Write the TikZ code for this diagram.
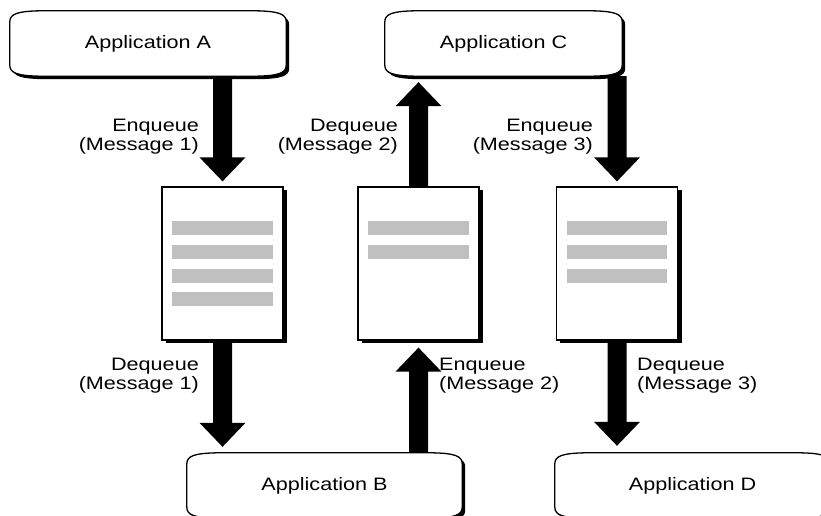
\documentclass[tikz,border=0pt]{standalone}
\usepackage{fontspec}
\setmainfont[FakeStretch=1.2]{Liberation Sans}
\usetikzlibrary{calc,backgrounds}
\definecolor{bargray}{HTML}{C0C0C0}

\tikzset{
  app/.style={minimum width=#1, minimum height=65pt, inner sep=0pt,
              font=\fontsize{18}{22}\selectfont},
  queue/.style={minimum width=121pt, minimum height=153pt, inner sep=0pt,
                draw, line width=1.3pt, fill=white},
  lbl/.style={font=\fontsize{18}{19}\selectfont, inner sep=0pt},
  boxline/.style={draw=black, line width=1.3pt, fill=white},
}

% outline of an application box, offset by (#2,#3)
\newcommand\appoutline[3]{%
  ($(#1.north west)+(#2,{#3+11})$)
  .. controls ($(#1.north west)+(#2,{#3+3})$) and ($(#1.north west)+({#2+8},{#3+0.5})$) .. ($(#1.north west)+({#2+30},#3)$)
  -- ($(#1.north east)+({#2-30},#3)$)
  .. controls ($(#1.north east)+({#2-8},{#3+0.5})$) and ($(#1.north east)+(#2,{#3+3})$) .. ($(#1.north east)+(#2,{#3+11})$)
  -- ($(#1.south east)+(#2,{#3-11})$)
  .. controls ($(#1.south east)+(#2,{#3-3})$) and ($(#1.south east)+({#2-8},{#3-0.5})$) .. ($(#1.south east)+({#2-30},#3)$)
  -- ($(#1.south west)+({#2+30},#3)$)
  .. controls ($(#1.south west)+({#2+8},{#3-0.5})$) and ($(#1.south west)+(#2,{#3-3})$) .. ($(#1.south west)+(#2,{#3-11})$)
  -- cycle}

% application box: shadow, then white body
\newcommand\appbox[1]{%
  \fill[black] \appoutline{#1}{3}{3};
  \path[boxline] \appoutline{#1}{0}{0};}

% queue shadow
\newcommand\queueshadow[1]{%
  \fill[black] ($(#1.north west)+(4,3)$) rectangle ($(#1.south east)+(4,3)$);}

% gray message bar number #2 inside queue #1
\newcommand\msgbar[2]{%
  \fill[bargray] ($(#1.north west)+(11,{35+23.6*(#2-1)})$) rectangle ($(#1.north east)+(-11,{49+23.6*(#2-1)})$);}

% thick block arrow from #1 to tip #2; #3 = 1 pointing down, -1 pointing up
\newcommand\blockarrow[3]{%
  \fill[black] ($(#1)+(-9.5,0)$) -- ($(#2)+(-9.5,{-24*#3})$) -- ($(#2)+(-23,{-24*#3})$)
    -- (#2) -- ($(#2)+(23,{-24*#3})$) -- ($(#2)+(9.5,{-24*#3})$) -- ($(#1)+(9.5,0)$) -- cycle;}

\begin{document}
\begin{tikzpicture}[x=1pt,y=-1pt]
  \useasboundingbox (0,0) rectangle (821,516);

  % application nodes
  \node[app=276pt] (appA) at (148,43.5) {Application A};
  \node[app=237pt] (appC) at (503.5,43.5) {Application C};
  \node[app=275pt] (appB) at (324.5,485.5) {Application B};
  \node[app=275pt] (appD) at (692.5,485.5) {Application D};

  \begin{pgfonlayer}{background}
    \appbox{appA}
    \appbox{appC}
    \appbox{appB}
    \appbox{appD}
  \end{pgfonlayer}

  % queue tables
  \coordinate (q1c) at (222.5,263.5);
  \coordinate (q2c) at (418.5,263.5);
  \coordinate (q3c) at (617,263.5);
  \node[minimum width=121pt, minimum height=153pt, inner sep=0pt] (q1s) at (q1c) {};
  \node[minimum width=121pt, minimum height=153pt, inner sep=0pt] (q2s) at (q2c) {};
  \node[minimum width=121pt, minimum height=153pt, inner sep=0pt] (q3s) at (q3c) {};
  \queueshadow{q1s}
  \queueshadow{q2s}
  \queueshadow{q3s}
  \node[queue] (q1) at (q1c) {};
  \node[queue] (q2) at (q2c) {};
  \node[queue] (q3) at (q3c) {};

  \msgbar{q1}{1}\msgbar{q1}{2}\msgbar{q1}{3}\msgbar{q1}{4}
  \msgbar{q2}{1}\msgbar{q2}{2}
  \msgbar{q3}{1}\msgbar{q3}{2}\msgbar{q3}{3}

  % arrow tips
  \coordinate (t1) at ($(q1.north)+(0,-5)$);
  \coordinate (t2) at ($(q2.north |- appC.south)+(0,6)$);
  \coordinate (t3) at ($(q3.north)+(0,-5)$);
  \coordinate (t4) at ($(q1.south |- appB.north)+(0,-6)$);
  \coordinate (t5) at ($(q2.south)+(0,7)$);
  \coordinate (t6) at ($(q3.south |- appD.north)+(0,-7)$);

  \blockarrow{q1.north |- appA.south}{t1}{1}
  \blockarrow{q2.north}{t2}{-1}
  \blockarrow{q3.north |- appC.south}{t3}{1}
  \blockarrow{q1.south}{t4}{1}
  \blockarrow{q2.south |- appB.north}{t5}{-1}
  \blockarrow{q3.south}{t6}{1}

  % labels
  \node[lbl, align=right, anchor=east] (l1) at (199,136.5) {Enqueue\\(Message 1)};
  \node[lbl, align=right, anchor=east] (l2) at (398,136.5) {Dequeue\\(Message 2)};
  \node[lbl, align=right, anchor=east] (l3) at (593,136.5) {Enqueue\\(Message 3)};
  \node[lbl, align=right, anchor=east] (l4) at (199,375.5) {Dequeue\\(Message 1)};
  \node[lbl, align=left, anchor=west] (l5) at (439,375.5) {Enqueue\\(Message 2)};
  \node[lbl, align=left, anchor=west] (l6) at (637,375.5) {Dequeue\\(Message 3)};
\end{tikzpicture}
\end{document}
